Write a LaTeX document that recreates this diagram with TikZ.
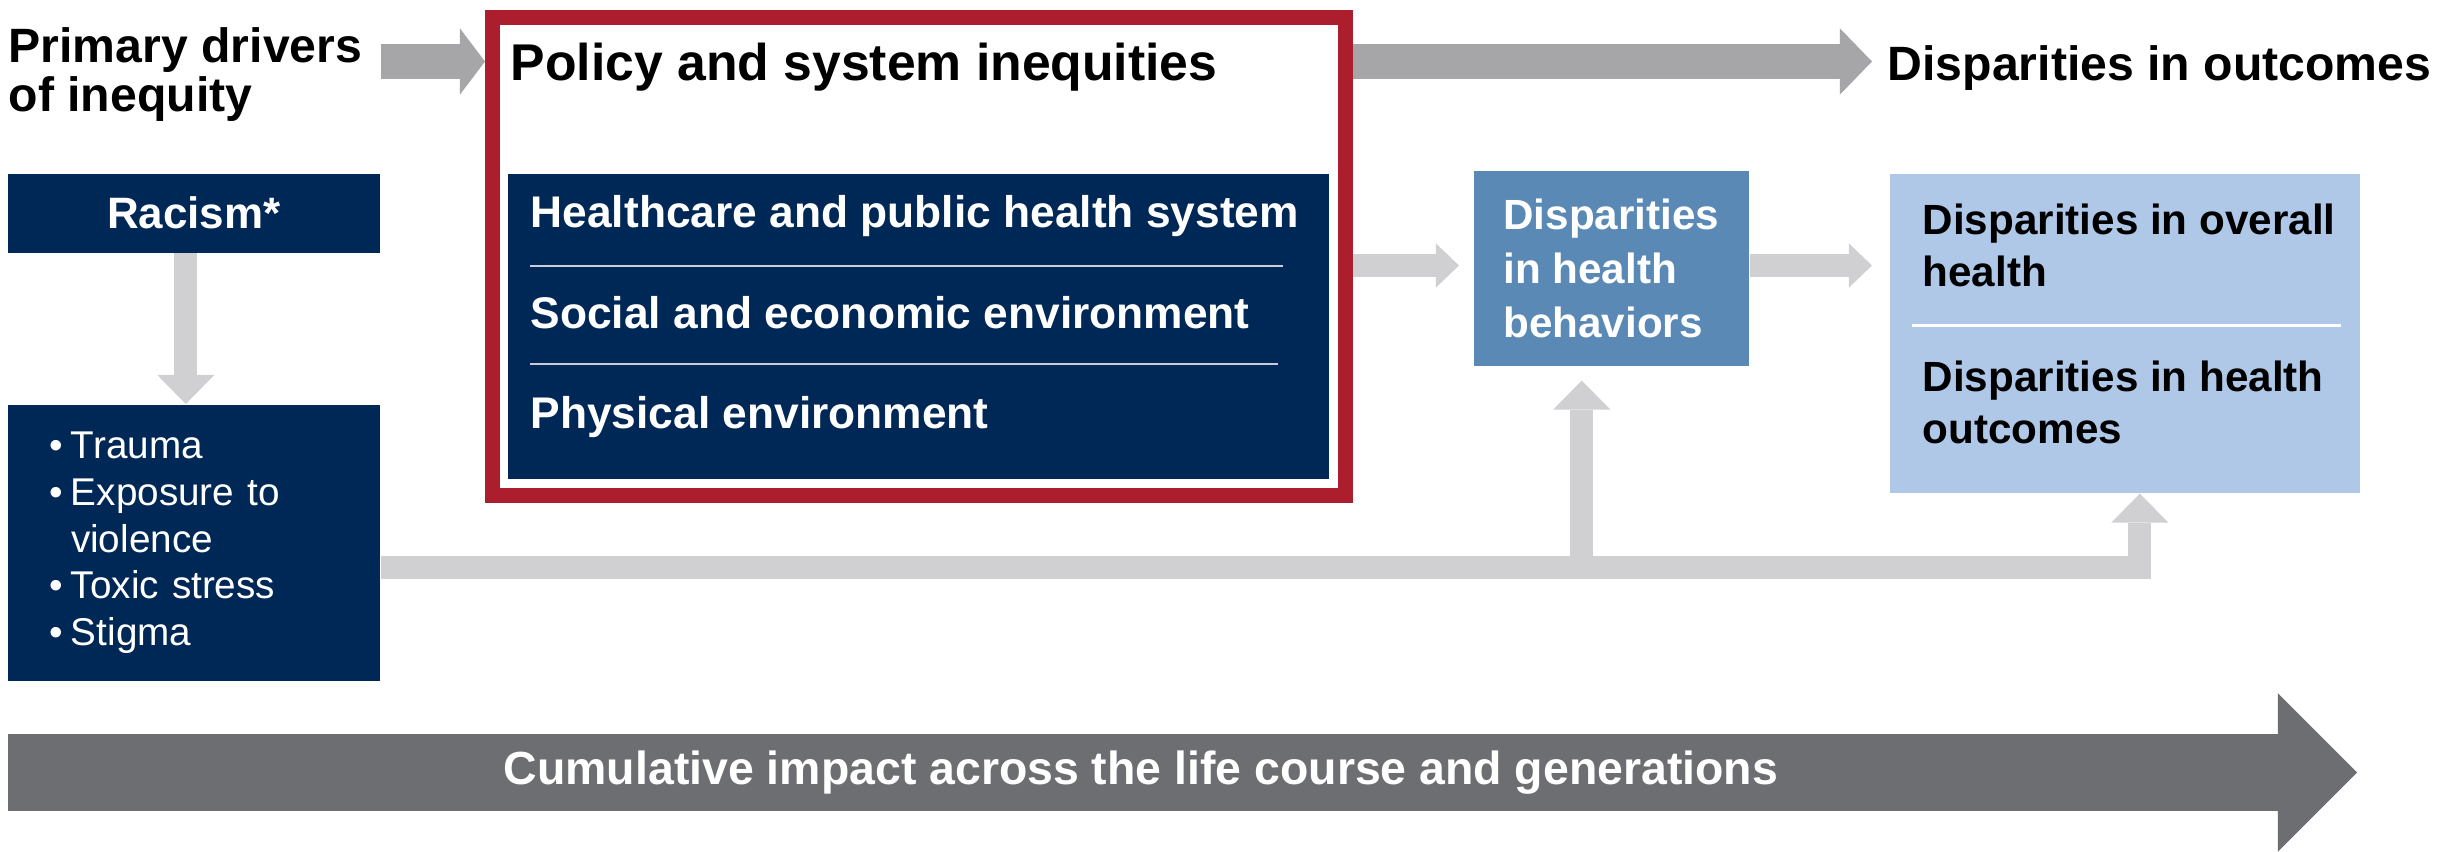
\documentclass[tikz,border=0pt]{standalone}
\usepackage{fontspec}
\setmainfont{Liberation Sans}
\usetikzlibrary{positioning}
\usetikzlibrary{calc}
\usetikzlibrary{arrows.meta}

\definecolor{navy}{RGB}{0,40,86}
\definecolor{framered}{RGB}{172,30,46}
\definecolor{steel}{RGB}{91,137,181}
\definecolor{pale}{RGB}{175,200,232}
\definecolor{flowgray}{RGB}{166,166,169}
\definecolor{linkgray}{RGB}{208,208,211}
\definecolor{bandgray}{RGB}{109,110,113}
\definecolor{rulegray}{RGB}{200,205,215}

\newcommand{\itembul}{\textbullet\hspace{0.2em}}

\tikzset{
  box/.style      = { rectangle, inner sep=0pt, anchor=north west },
  heading/.style  = { inner sep=0pt, align=left, font=\bfseries\fontsize{13.7}{13.9}\selectfont },
  itemtext/.style = { inner sep=0pt, align=left, font=\bfseries\fontsize{12}{14.8}\selectfont },
}
\tikzset{
  darkbox/.style  = { box, fill=navy, text=white },
  midbox/.style   = { box, fill=steel, text=white, align=left,
                      font=\bfseries\fontsize{12}{15.4}\selectfont },
  palebox/.style  = { box, fill=pale },
  redframe/.style = { box, draw=framered, line width=0.15cm },
  flow/.style     = { draw=flowgray, line width=0.34cm,
                      -{Triangle[length=#1, width=0.66cm, line width=0pt]} },
  flow/.default   = 0.3cm,
  link/.style     = { draw=linkgray, line width=0.23cm,
                      -{Triangle[length=0.23cm, width=0.44cm, line width=0pt]} },
  riser/.style    = { draw=linkgray, line width=0.23cm,
                      -{Triangle[length=0.29cm, width=0.57cm, line width=0pt]} },
  band/.style     = { draw=bandgray, line width=0.77cm,
                      -{Triangle[length=0.79cm, width=1.58cm, line width=0pt]} },
  rule/.style     = { draw=rulegray, line width=0.025cm },
}

\begin{document}
\begin{tikzpicture}[x=0.01cm, y=-0.01cm]
  \useasboundingbox [fill=white] (0,0) rectangle (2460,851);

  \coordinate (toprow) at (0,61.5);
  \coordinate (midrow) at (0,265.5);
  \coordinate (lowrow) at (0,567);

  % left column
  \node (drivers) [heading, anchor=north west] at (8,27)
        {Primary drivers\\of inequity};
  \node (racism)  [darkbox, minimum width=3.72cm, minimum height=0.79cm,
                   font=\bfseries\fontsize{12.5}{15}\selectfont] at (7,173) {Racism*};
  \node (bullets) [darkbox, minimum width=3.72cm, minimum height=2.76cm,
                   text width=2.88cm, inner xsep=0.42cm, align=left,
                   font=\fontsize{11}{13.3}\selectfont] at (7,404)
        {\itembul Trauma\\
         \itembul Exposure to\\
         \phantom{\itembul}violence\\
         \itembul Toxic stress\\
         \itembul Stigma};

  % policy and system block
  \node (policy)   [heading, anchor=base west,
                    font=\bfseries\fontsize{14.7}{14.7}\selectfont] at (510,80)
        {Policy and system inequities};
  \node (sysbox)   [darkbox, minimum width=8.21cm, minimum height=3.05cm] at (507,173) {};
  \node (health)   [itemtext, text=white, anchor=base west,
                    font=\bfseries\fontsize{12.6}{14.8}\selectfont] at (530,227)
        {Healthcare and public health system};
  \node (social)   [itemtext, text=white, anchor=base west,
                    font=\bfseries\fontsize{12.6}{14.8}\selectfont] at (530,328)
        {Social and economic environment};
  \node (physical) [itemtext, text=white, anchor=base west,
                    font=\bfseries\fontsize{12.6}{14.8}\selectfont] at (530,428)
        {Physical environment};
  \draw [rule] ($(sysbox.north west)+(23,93)$) -- ($(sysbox.north east)+(-47,93)$);
  \draw [rule] ($(sysbox.north west)+(23,191)$) -- ($(sysbox.north east)+(-52,191)$);
  \node (frame)    [redframe, minimum width=8.52cm, minimum height=4.78cm] at (485,10) {};

  % outcomes
  \node (outcomes) [heading, anchor=base west] at (1887,80) {Disparities in outcomes};
  \node (behav)    [midbox, minimum width=2.75cm, minimum height=1.95cm] at (1473,170)
        {Disparities\\in health\\behaviors};
  \node (outbox)   [palebox, minimum width=4.70cm, minimum height=3.19cm] at (1889,173) {};
  \node (overall)  [itemtext, anchor=north west] at (1922,203)
        {Disparities in overall\\health};
  \node (hlthout)  [itemtext, anchor=north west] at (1922,360)
        {Disparities in health\\outcomes};
  \draw [draw=white, line width=0.03cm] ($(outbox.north west)+(23,152)$) -- ($(outbox.north east)+(-20,152)$);

  % connectors
  \draw [flow=0.25cm] (racism.east |- toprow) -- (frame.west |- toprow);
  \draw [flow=0.32cm] (frame.east |- toprow) -- ([xshift=-0.15cm]outcomes.west |- toprow);
  \draw [link, shorten >=0.14cm] (frame.east |- midrow) -- (behav.west |- midrow);
  \draw [link, shorten >=0.17cm] (behav.east |- midrow) -- (outbox.west |- midrow);
  \draw [riser] ([xshift=-0.08cm]racism.south) -- ([xshift=-0.08cm]bullets.north);
  \draw [riser] (bullets.east |- lowrow) -| ([xshift=0.15cm]outbox.south);
  \draw [riser, shorten >=0.14cm] ([xshift=-0.295cm]behav.south |- lowrow)
        -- ([xshift=-0.295cm]behav.south);

  % life course band
  \coordinate (lifestart) at (8,772.5);
  \coordinate (lifeend)   at (2357,772.5);
  \draw [band] (lifestart) -- (lifeend);
  \node (course) [text=white, inner sep=0pt, font=\bfseries\fontsize{13.2}{13.2}\selectfont]
        at (1141,772.5) {Cumulative impact across the life course and generations};
\end{tikzpicture}
\end{document}
